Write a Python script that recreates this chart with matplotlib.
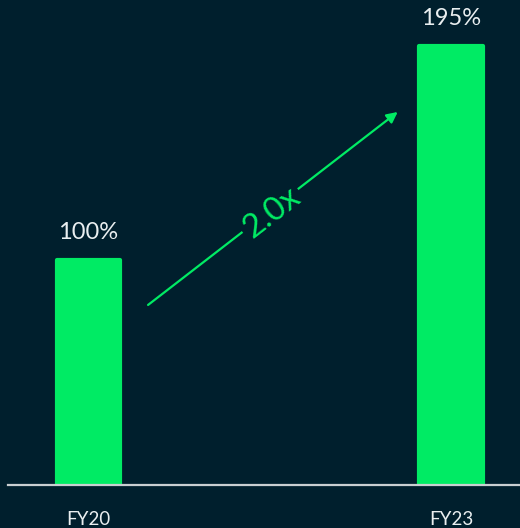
import numpy as np
import matplotlib
matplotlib.use("Agg")
import matplotlib.pyplot as plt

# Data
periods = ["FY20", "FY23"]
values = [100, 195]
growth_label = "2.0x"

bg = "#001F2D"
green = "#00EB64"
text_col = "#E9EEF0"

plt.rcParams["font.family"] = ["Lato", "DejaVu Sans"]

fig = plt.figure(figsize=(5.2, 5.28), dpi=100)
fig.patch.set_facecolor(bg)
ax = fig.add_axes([0, 43 / 528, 1, 485 / 528])
ax.set_facecolor(bg)

x = np.arange(len(periods))
bars = ax.bar(x, values, width=0.176, color=green, edgecolor=green,
              linewidth=3, joinstyle="round")
ax.set_xlim(-0.244, 1.189)
ax.set_ylim(0, 215.5)

# value labels above each bar
for xi, v in zip(x, values):
    ax.annotate(f"{v}%", (xi, v), xytext=(0, 12), textcoords="offset points",
                ha="center", va="bottom", color=text_col, fontsize=17)

# category labels under the baseline
for xi, p in zip(x, periods):
    ax.annotate(p, (xi, 0), xytext=(0, -25), textcoords="offset points",
                ha="center", va="center", color=text_col, fontsize=13.5)

# baseline
ax.axhline(0, xmin=0.015, xmax=1, color="#C9CED1", lw=1.6, clip_on=False)

# growth arrow between the two bars
start = (0.164, values[0] * 0.80)
end = (0.852, values[1] * 0.85)
ax.annotate("", xy=end, xytext=start,
            arrowprops=dict(arrowstyle="-|>", color=green, lw=1.6,
                            mutation_scale=16, shrinkA=0, shrinkB=0))

fig.canvas.draw()
p0 = ax.transData.transform(start)
p1 = ax.transData.transform(end)
angle = np.degrees(np.arctan2(p1[1] - p0[1], p1[0] - p0[0]))
mid = (0.505, 121)
ax.text(*mid, growth_label, rotation=angle, rotation_mode="anchor",
        ha="center", va="center", color=green, fontsize=24,
        bbox=dict(boxstyle="square,pad=0.1", fc=bg, ec="none"))

ax.axis("off")
fig.savefig("out.png", dpi=100, facecolor=bg)
